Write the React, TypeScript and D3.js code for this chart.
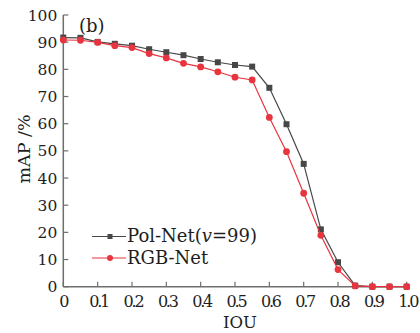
import React from "react";
import * as d3 from "d3";

const iou = [0, 0.05, 0.1, 0.15, 0.2, 0.25, 0.3, 0.35, 0.4, 0.45, 0.5, 0.55, 0.6, 0.65, 0.7, 0.75, 0.8, 0.85, 0.9, 0.95, 1.0];
const polNet = [91.7, 91.6, 90.1, 89.4, 88.7, 87.4, 86.3, 85.2, 83.8, 82.6, 81.6, 81.0, 73.2, 59.8, 45.2, 21.1, 9.0, 0.4, 0, 0, 0];
const rgbNet = [90.8, 90.7, 89.9, 88.7, 88.0, 85.8, 84.2, 82.2, 80.9, 79.1, 77.1, 76.1, 62.3, 49.7, 34.4, 18.9, 6.3, 0.3, 0, 0, 0];
const xTicks = [0, 0.1, 0.2, 0.3, 0.4, 0.5, 0.6, 0.7, 0.8, 0.9, 1.0];
const yTicks = [0, 10, 20, 30, 40, 50, 60, 70, 80, 90, 100];
const seriesNames = ["Pol-Net", "RGB-Net"];

const W = 420, H = 333;
const left = 63.3, right = 406.7, top = 15, bottom = 286.7;
const font = "'DejaVu Serif', serif";
const grayC = "#474747";
const redC = "#e8343f";
const axisC = "#6e6e6e";
const txt = "#1e1e1e";

export default function App() {
  const x = d3.scaleLinear().domain([0, 1]).range([left, right]);
  const y = d3.scaleLinear().domain([0, 100]).range([bottom, top]);
  const line = d3.line<number>().x((_, i) => x(iou[i])).y((d) => y(d));
  return (
    <svg width={W} height={H} style={{ position: "absolute", left: 0, top: 0, background: "#fff" }}>
      <rect width={W} height={H} fill="#fff" />
      {/* axes */}
      <line x1={left} x2={left} y1={top} y2={bottom} stroke={axisC} strokeWidth={1.5} />
      <line x1={left} x2={right} y1={bottom} y2={bottom} stroke={axisC} strokeWidth={1.5} />
      {yTicks.map((t) => (
        <g key={"y" + t}>
          <line x1={left} x2={left + 5} y1={y(t)} y2={y(t)} stroke={axisC} strokeWidth={1.2} />
          <text x={left - 6} y={y(t)} dy="0.36em" textAnchor="end" fontFamily={font} fontSize={15.5} fill={txt}>
            {t}
          </text>
        </g>
      ))}
      {xTicks.map((t) => (
        <g key={"x" + t}>
          <line x1={x(t)} x2={x(t)} y1={bottom} y2={bottom - 5} stroke={axisC} strokeWidth={1.2} />
          <text x={x(t) + 1} y={307} textAnchor="middle" fontFamily={font} fontSize={16} letterSpacing={t === 0 ? 0 : -2.2} fill={txt}>
            {t === 0 ? "0" : t.toFixed(1)}
          </text>
        </g>
      ))}
      <text x={240} y={327.5} textAnchor="middle" fontFamily={font} fontSize={16.5} fill={txt}>IOU</text>
      <text transform="translate(30,149) rotate(-90)" textAnchor="middle" fontFamily={font} fontSize={17.5} fill={txt}>mAP /%</text>
      <text x={79} y={32} fontFamily={font} fontSize={18} fill={txt}>(b)</text>

      {/* Pol-Net */}
      <path d={line(polNet) || ""} fill="none" stroke={grayC} strokeWidth={1.2} />
      {polNet.map((v, i) => (
        <rect key={"p" + i} x={x(iou[i]) - 3} y={y(v) - 3} width={6} height={6} fill={grayC} />
      ))}
      {/* RGB-Net */}
      <path d={line(rgbNet) || ""} fill="none" stroke={redC} strokeWidth={1.2} />
      {rgbNet.map((v, i) => (
        <circle key={"r" + i} cx={x(iou[i])} cy={y(v)} r={3.4} fill={redC} />
      ))}

      {/* legend */}
      <g>
        <line x1={92} x2={126} y1={236.5} y2={236.5} stroke={grayC} strokeWidth={1.2} />
        <rect x={107.5} y={234} width={5} height={5} fill={grayC} />
        <text x={127} y={242} fontFamily={font} fontSize={18} fill={txt}>
          {seriesNames[0]}(<tspan fontStyle="italic">v</tspan>=99)
        </text>
        <line x1={92} x2={126} y1={258} y2={258} stroke={redC} strokeWidth={1.2} />
        <circle cx={110} cy={258} r={3} fill={redC} />
        <text x={127} y={264} fontFamily={font} fontSize={18} fill={txt}>
          {seriesNames[1]}
        </text>
      </g>
    </svg>
  );
}
